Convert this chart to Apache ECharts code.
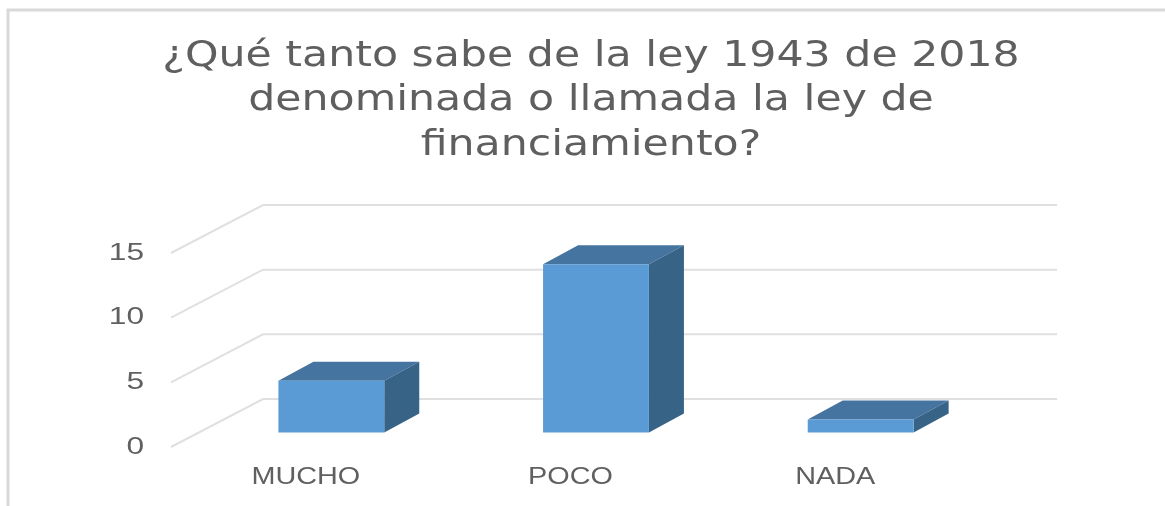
<!DOCTYPE html>
<html><head><meta charset="utf-8">
<style>html,body{margin:0;padding:0;background:#fff}#c{width:1165px;height:506px}</style>
<script src="https://cdn.jsdelivr.net/npm/echarts@6/dist/echarts.min.js"></script>
</head><body><div id="c"></div>
<script>
const titleText = '¿Qué tanto sabe de la ley 1943 de 2018\ndenominada o llamada la ley de\nfinanciamiento?';
const categories = ['MUCHO', 'POCO', 'NADA'];
const values = [4, 13, 1];
const yTicks = [0, 5, 10, 15];

const wallDX = 91, wallDY = -48;      // floor depth of the 3D box
const barDX = 27, barDY = -14.5;      // bar set-back from the front edge
const depthDX = 35, depthDY = -19;    // bar extrusion
const labelFont = '24px "Liberation Sans"';
const labelScale = 1.2;
const labelColor = '#606060';
const gridColor = '#e0e0e0';

const chart = echarts.init(document.getElementById('c'));
chart.setOption({
  animation: false,
  backgroundColor: '#fff',
  graphic: [{
    type: 'polyline', silent: true,
    shape: { points: [[8, 506], [8, 10], [1165, 10]] },
    style: { stroke: '#d9d9d9', lineWidth: 3, fill: null }
  }, {
    type: 'text', silent: true, x: 591, y: 34, scaleX: 1.185,
    style: { text: titleText, font: '36px "DejaVu Sans"', fill: '#5f5f5f', textAlign: 'center', lineHeight: 44.5 }
  }],
  grid: { left: 172, top: 253, width: 794, height: 194 },
  xAxis: { type: 'category', data: categories, axisLine: { show: false }, axisTick: { show: false }, axisLabel: { show: false } },
  yAxis: { type: 'value', min: 0, max: 15, interval: 5, axisLine: { show: false }, axisTick: { show: false }, axisLabel: { show: false }, splitLine: { show: false } },
  series: [
    { // walls and value labels
      type: 'custom', z: 1, silent: true, clip: false,
      data: yTicks.map(v => [0, v]),
      encode: { x: 0, y: 1 },
      renderItem(params, api) {
        const v = api.value(1);
        const p = api.coord([0, v]);
        const band = api.size([1, 0])[0];
        const x0 = p[0] - band / 2, y0 = p[1];
        return { type: 'group', children: [
          { type: 'polyline', shape: { points: [[x0 - 1, y0], [x0 + wallDX, y0 + wallDY], [x0 + wallDX + band * 3, y0 + wallDY]] },
            style: { stroke: gridColor, lineWidth: 2, fill: null } },
          { type: 'text', x: x0 - 28, y: y0, scaleX: labelScale * 1.1,
            style: { text: String(v), font: labelFont, fill: labelColor, textAlign: 'right', textVerticalAlign: 'middle' } }
        ] };
      }
    },
    { // 3D bars and category labels
      type: 'custom', z: 2, silent: true, clip: false,
      data: categories.map((c, i) => [i, values[i]]),
      encode: { x: 0, y: 1 },
      renderItem(params, api) {
        const i = api.value(0), top = api.coord([i, api.value(1)]), base = api.coord([i, 0]);
        const band = api.size([1, 0])[0], w = band * 0.4;
        const l = top[0] + barDX - w / 2, r = l + w, t = top[1] + barDY, b = base[1] + barDY;
        return { type: 'group', children: [
          { type: 'polygon', shape: { points: [[l, t], [r, t], [r + depthDX, t + depthDY], [l + depthDX, t + depthDY]] }, style: { fill: '#44749f' } },
          { type: 'polygon', shape: { points: [[r, t], [r + depthDX, t + depthDY], [r + depthDX, b + depthDY], [r, b]] }, style: { fill: '#376387' } },
          { type: 'rect', shape: { x: l, y: t, width: w, height: b - t }, style: { fill: '#5b9bd5' } },
          { type: 'text', x: base[0] + 1.5, y: base[1] + 30, scaleX: labelScale,
            style: { text: categories[i], font: labelFont, fill: labelColor, textAlign: 'center', textVerticalAlign: 'middle' } }
        ] };
      }
    }
  ]
});
</script></body></html>
